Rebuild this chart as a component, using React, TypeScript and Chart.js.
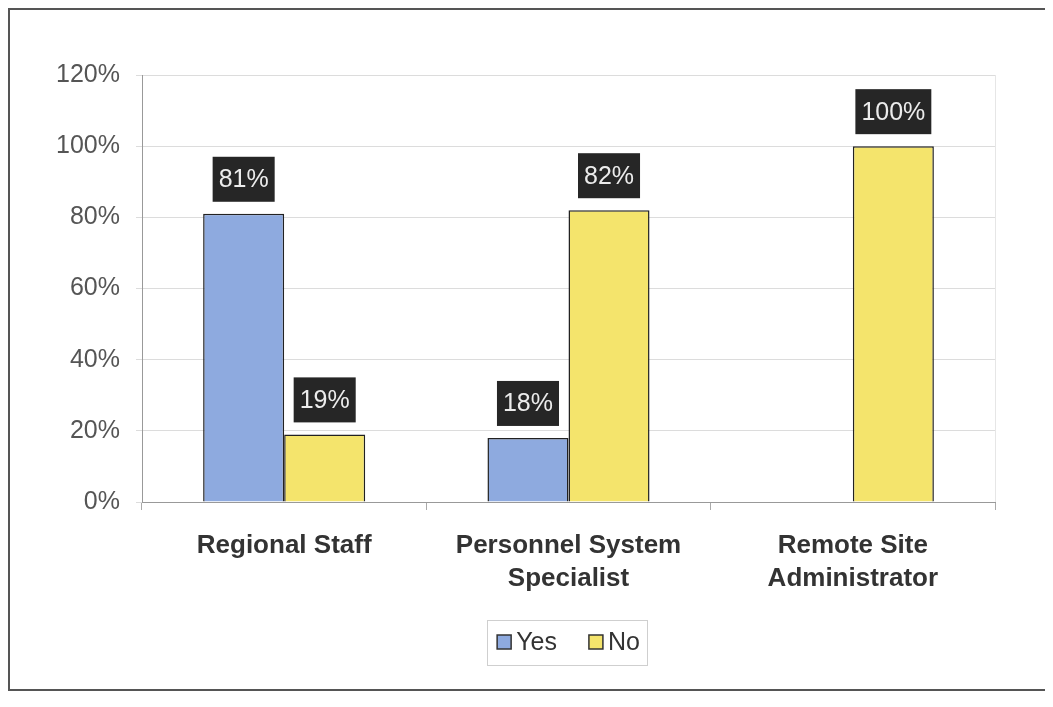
import React, { useEffect, useRef } from "react";
import { Chart, registerables } from "chart.js";

Chart.register(...registerables);

const categories: (string | string[])[] = [
  "Regional Staff",
  ["Personnel System", "Specialist"],
  ["Remote Site", "Administrator"],
];
const yesValues = [81, 18, 0];
const noValues = [19, 82, 100];
const yTicks = [0, 20, 40, 60, 80, 100, 120];

const FONT = "'Liberation Sans', Arial, sans-serif";

const labelPlugin = {
  id: "boxLabels",
  afterDatasetsDraw(chart: any) {
    const ctx = chart.ctx;
    ctx.save();
    ctx.font = `25px ${FONT}`;
    chart.data.datasets.forEach((ds: any, di: number) => {
      const meta = chart.getDatasetMeta(di);
      meta.data.forEach((bar: any, i: number) => {
        const v = ds.data[i];
        if (!v) return;
        const text = `${v}%`;
        const w = ctx.measureText(text).width + 12;
        const h = 45;
        const x = bar.x - w / 2;
        const y = bar.y - 12 - h;
        ctx.fillStyle = "#262626";
        ctx.fillRect(x, y, w, h);
        ctx.fillStyle = "#ececec";
        ctx.textAlign = "center";
        ctx.textBaseline = "middle";
        ctx.fillText(text, bar.x, y + h / 2 + 1);
      });
    });
    ctx.restore();
  },
  afterDraw(chart: any) {
    const ctx = chart.ctx;
    const a = chart.chartArea;
    ctx.save();
    // faint right plot border
    ctx.strokeStyle = "#e6e6e6";
    ctx.lineWidth = 1;
    ctx.beginPath();
    ctx.moveTo(a.right + 0.5, a.top);
    ctx.lineTo(a.right + 0.5, a.bottom);
    ctx.stroke();

    // legend
    ctx.font = `25px ${FONT}`;
    const items = chart.data.datasets.map((ds: any) => ({
      text: ds.label,
      color: ds.backgroundColor,
      w: ctx.measureText(ds.label).width,
    }));
    const marker = 14;
    const gapText = 5;
    const gapItem = 32;
    const total =
      items.reduce((s: number, it: any) => s + marker + gapText + it.w, 0) +
      gapItem * (items.length - 1);
    const cx = (a.left + a.right) / 2;
    const cy = 632;
    let x = cx - total / 2;
    ctx.strokeStyle = "#cfcfcf";
    ctx.strokeRect(
      Math.round(x - 10) + 0.5,
      Math.round(cy - 22) + 0.5,
      Math.round(total + 17),
      45
    );
    ctx.textAlign = "left";
    ctx.textBaseline = "middle";
    items.forEach((it: any) => {
      ctx.fillStyle = it.color;
      ctx.fillRect(x, cy - marker / 2, marker, marker);
      ctx.strokeStyle = "#333";
      ctx.lineWidth = 1.5;
      ctx.strokeRect(x, cy - marker / 2, marker, marker);
      ctx.fillStyle = "#333";
      ctx.fillText(it.text, x + marker + gapText, cy + 1);
      x += marker + gapText + it.w + gapItem;
    });
    ctx.restore();
  },
};

export default function App() {
  const ref = useRef<HTMLCanvasElement>(null);
  useEffect(() => {
    if (!ref.current) return;
    const chart = new Chart(ref.current, {
      type: "bar",
      data: {
        labels: categories,
        datasets: [
          {
            label: "Yes",
            data: yesValues,
            backgroundColor: "#8eaadf",
            borderColor: "#222",
            borderWidth: 1.5,
            categoryPercentage: 0.57,
            barPercentage: 1,
          },
          {
            label: "No",
            data: noValues,
            backgroundColor: "#f4e46c",
            borderColor: "#222",
            borderWidth: 1.5,
            categoryPercentage: 0.57,
            barPercentage: 1,
          },
        ],
      },
      options: {
        animation: false,
        responsive: false,
        maintainAspectRatio: false,
        layout: { padding: { top: 65, right: 56, bottom: 69, left: 0 } },
        plugins: {
          tooltip: { enabled: false },
          legend: { display: false },
        },
        scales: {
          x: {
            grid: {
              display: true,
              drawOnChartArea: false,
              tickLength: 8,
              color: "#aaa",
            },
            border: { color: "#999" },
            ticks: {
              font: { family: FONT, size: 26, weight: "bold", lineHeight: 1.28 },
              color: "#333",
              padding: 19,
              maxRotation: 0,
            },
            afterFit(scale: any) {
              scale.height = 118;
            },
          },
          y: {
            min: 0,
            max: 120,
            afterBuildTicks(scale: any) {
              scale.ticks = yTicks.map((v) => ({ value: v }));
            },
            grid: { color: "#dcdcdc", tickLength: 6 },
            border: { color: "#999" },
            ticks: {
              font: { family: FONT, size: 25 },
              color: "#555",
              padding: 16,
              callback: (v: any) => `${v}%`,
            },
            afterFit(scale: any) {
              scale.width = 132;
            },
          },
        },
      },
      plugins: [labelPlugin],
    });
    return () => chart.destroy();
  }, []);
  return (
    <div
      style={{
        position: "relative",
        width: 1045,
        height: 683,
        border: "2px solid #555",
        boxSizing: "border-box",
        background: "#fff",
      }}
    >
      <canvas
        ref={ref}
        width={1041}
        height={679}
        style={{ position: "absolute", left: 0, top: 0 }}
      />
    </div>
  );
}
